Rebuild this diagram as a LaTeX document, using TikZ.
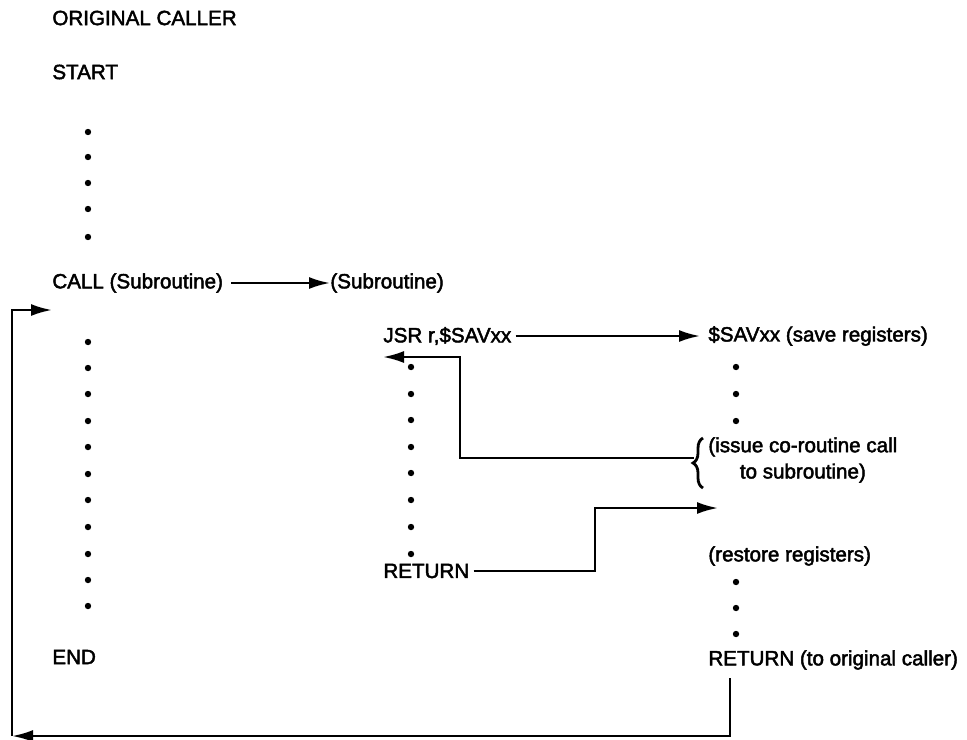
\documentclass[tikz,border=0pt]{standalone}
\usepackage{fontspec}
\setmainfont{Liberation Sans}[FakeBold=2.2]
\usepackage{tikz}
\usetikzlibrary{arrows.meta, positioning, calc, decorations.pathreplacing}

\begin{document}
\begin{tikzpicture}[
    x=0.5pt, y=-0.5pt,
    font=\fontsize{10.3}{12.5}\selectfont,
    label/.style={anchor=west, inner sep=0pt},
    arrow/.style={-{Latex[length=10.5pt,width=6pt]}, line width=1.2pt},
    wire/.style={line width=1.4pt},
    dot/.style={fill=black}
]
\useasboundingbox (0,0) rectangle (967,739);

% Original caller
\node[label] (orig) at (52,18) {ORIGINAL CALLER};
\node[label] (start) at (52,72) {START};
\foreach \y in {132,157,183,209,237} \fill[dot] (88,\y) circle (1.6pt);
\node[label] (call) at (52,283) {CALL (Subroutine)};
\node[label] (sub) at (330,283) {(Subroutine)};
\foreach \y in {342,368,394,421,447,474,500,527,554,580,606} \fill[dot] (88,\y) circle (1.6pt);
\node[label] (endn) at (52,657) {END};

% Subroutine
\node[label] (jsr) at (383,336) {JSR r,\$SAVxx};
\foreach \y in {367,394,420,447,473,500,527,554} \fill[dot] (411,\y) circle (1.6pt);
\node[label] (ret1) at (383,571) {RETURN};

% Save routine
\node[label] (sav) at (708,336) {\$SAVxx (save registers)};
\foreach \y in {367,394,421} \fill[dot] (736,\y) circle (1.6pt);
\node[label, align=center] (issue) at (708,460) {(issue co-routine call\\[0.6pt] to subroutine)};
\draw[wire, decorate, decoration={brace, amplitude=5pt}] (703,488) -- (703,438);
\node[label] (restore) at (708,556) {(restore registers)};
\foreach \y in {582,608,634} \fill[dot] (736,\y) circle (1.6pt);
\node[label] (ret2) at (708,660) {RETURN (to original caller)};

% Bend points
\coordinate (bracetip) at (694,458);
\coordinate (bend1) at (460,357);
\coordinate (jsrin) at (383,357);
\coordinate (bend2) at (595,508);
\coordinate (restin) at (718,508);
\coordinate (corner) at (12,736);
\coordinate (entry) at (52,310);

% Connectors
\draw[arrow] ([xshift=4pt]call.east) -- (sub.west);
\draw[arrow] ([xshift=2pt]jsr.east) -- ([xshift=-4pt]sav.west);
\draw[arrow] (bracetip) -| (bend1) -- (jsrin);
\draw[arrow] ([xshift=2pt]ret1.east) -| (bend2) -- (restin);
\draw[arrow] ([xshift=11pt,yshift=-4pt]ret2.south west) |- (corner);
\draw[arrow] (corner) |- (entry);
\end{tikzpicture}
\end{document}
